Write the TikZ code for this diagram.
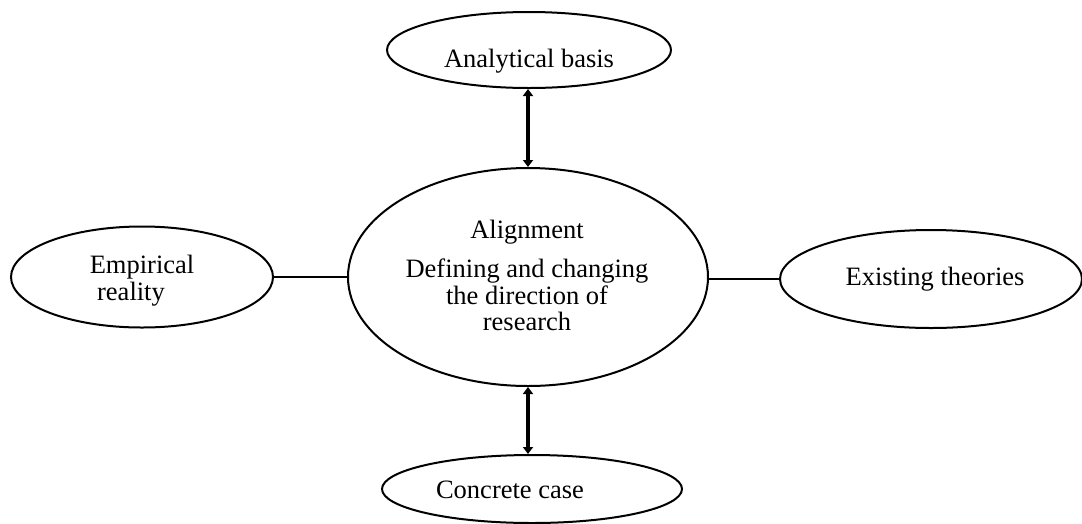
\documentclass[tikz,border=0pt]{standalone}
\usepackage{fontspec}
\setmainfont{Liberation Serif}
\usetikzlibrary{shapes.geometric,arrows.meta}
\begin{document}
\begin{tikzpicture}[x=1pt,y=-1pt,
  oval/.style={ellipse,draw,line width=2pt,inner sep=0pt},
  link/.style={line width=1.8pt},
  bi/.style={line width=4pt,{Triangle[length=7pt,width=10pt]}-{Triangle[length=7pt,width=10pt]}},
  lbl/.style={font=\fontsize{26.5}{26}\selectfont,anchor=base,inner sep=0pt}]
\useasboundingbox (0,0) rectangle (1082,523);
\node[oval,minimum width=284pt,minimum height=76pt] (top) at (529,50) {};
\node[lbl] (topt) at (529,67) {Analytical basis};
\node[oval,minimum width=360pt,minimum height=218pt] (mid) at (528,277) {};
\node[lbl] (m1) at (527,238) {Alignment};
\node[lbl] (m2) at (527,277) {Defining and changing};
\node[lbl] (m3) at (527,304) {the direction of};
\node[lbl] (m4) at (527,330) {research};
\node[oval,minimum width=262pt,minimum height=101pt] (left) at (142,277) {};
\node[lbl] (l1) at (142,273) {Empirical};
\node[lbl] (l2) at (131,300) {reality};
\node[oval,minimum width=302pt,minimum height=98pt] (right) at (931,279) {};
\node[lbl] (rt) at (935,285) {Existing theories};
\node[oval,minimum width=300pt,minimum height=68pt] (bot) at (532,489) {};
\node[lbl] (bt) at (510,498) {Concrete case};
\draw[link] (left.east) -- (left.east -| mid.west);
\draw[link] (mid.east |- right.west) -- (right.west);
\draw[bi] (mid.north |- top.south) -- (mid.north);
\draw[bi] (mid.south) -- (mid.south |- bot.north);
\end{tikzpicture}
\end{document}
